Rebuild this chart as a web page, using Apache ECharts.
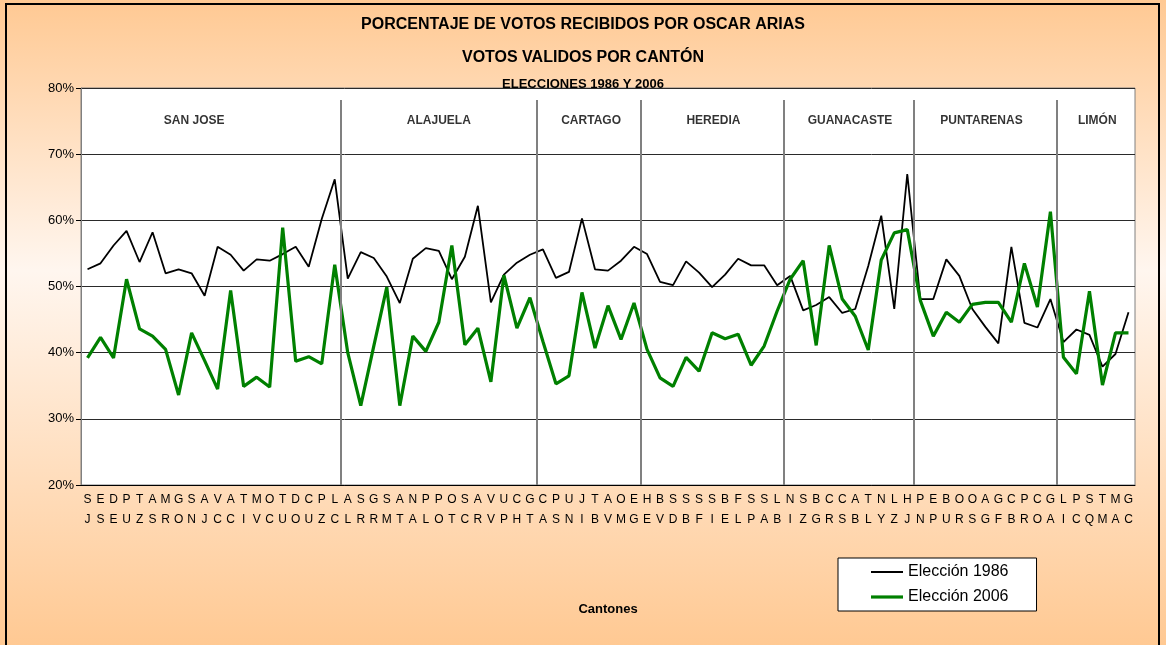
<!DOCTYPE html>
<html>
<head>
<meta charset="utf-8">
<script src="https://cdn.jsdelivr.net/npm/echarts@6/dist/echarts.min.js"></script>
<style>
  html, body { margin: 0; padding: 0; }
  #chart { width: 1166px; height: 645px; }
</style>
</head>
<body>
<div id="chart"></div>
<script>
// cantones (dos letras, una arriba y otra abajo)
const cantones = [
  'SJ','ES','DE','PU','TZ','AS','MR','GO','SN','AJ','VC','AC','TI','MV','OC','TU','DO','CU','PZ','LC',
  'AL','SR','GR','SM','AT','NA','PL','PO','OT','SC','AR','VV','UP','CH','GT',
  'CA','PS','UN','JI','TB','AV','OM','EG',
  'HE','BV','SD','SB','SF','SI','BE','FL','SP','SA',
  'LB','NI','SZ','BG','CR','CS','AB','TL','NY','LZ','HJ',
  'PN','EP','BU','OR','OS','AG','GF','CB','PR','CO','GA',
  'LI','PC','SQ','TM','MA','GC'
]

const votos1986 = [
  52.6, 53.5, 56.2, 58.4, 53.7, 58.2, 52.0, 52.6, 52.0, 48.6, 56.0, 54.8, 52.4, 54.1, 53.9, 54.9, 56.0, 53.0, 60.2, 66.2,
  51.2, 55.2, 54.3, 51.5, 47.5, 54.2, 55.8, 55.4, 51.1, 54.5, 62.2, 47.6, 51.8, 53.6, 54.8,
  55.6, 51.3, 52.2, 60.3, 52.6, 52.4, 53.9, 56.0,
  54.9, 50.7, 50.2, 53.8, 52.1, 49.9, 51.8, 54.2, 53.2, 53.2,
  50.2, 51.6, 46.4, 47.2, 48.4, 46.0, 46.6, 53.1, 60.7, 46.6, 67.0,
  48.1, 48.1, 54.1, 51.6, 46.6, 43.9, 41.4, 56.0, 44.5, 43.8, 48.1,
  41.6, 43.5, 42.7, 37.9, 39.8, 46.1
]

const votos2006 = [
  39.2, 42.3, 39.2, 51.1, 43.6, 42.5, 40.5, 33.6, 43.0, 38.8, 34.5, 49.4, 34.9, 36.3, 34.8, 58.9, 38.7, 39.4, 38.3, 53.3,
  40.0, 32.0, 41.0, 49.9, 32.0, 42.5, 40.2, 44.6, 56.2, 41.2, 43.7, 35.6, 51.7, 43.7, 48.3,
  41.7, 35.3, 36.5, 49.1, 40.7, 47.1, 42.0, 47.5,
  40.5, 36.2, 34.9, 39.3, 37.2, 43.0, 42.1, 42.8, 38.1, 41.0,
  46.3, 51.1, 53.9, 41.1, 56.2, 48.1, 45.5, 40.4, 54.0, 58.1, 58.6,
  47.9, 42.5, 46.1, 44.6, 47.3, 47.6, 47.6, 44.6, 53.5, 46.9, 61.3,
  39.3, 36.8, 49.3, 35.1, 43.0, 43.0
]

const provincias = ['SAN JOSE', 'ALAJUELA', 'CARTAGO', 'HEREDIA', 'GUANACASTE', 'PUNTARENAS', 'LIMÓN']
// separadores entre provincias (indice de canton)
const divisiones = [20, 35, 43, 54, 64, 75]
const yTicks = [20, 30, 40, 50, 60, 70, 80]

// donde va el nombre de cada provincia (en unidades de canton)
const posNombre = [8.7, 27.5, 39.2, 48.6, 59.1, 69.2, 78.1]

const chart = echarts.init(document.getElementById('chart'))
const fuente = "'Liberation Sans', Arial, sans-serif"

const option = {
  animation: false,
  backgroundColor: {
    type: 'linear', x: 0, y: 0, x2: 0, y2: 1,
    colorStops: [
      { offset: 0, color: '#ffc993' },
      { offset: 0.42, color: '#fff6ef' },
      { offset: 1, color: '#ffc993' }
    ]
  },
  textStyle: { fontFamily: fuente },
  title: [
    { text: 'PORCENTAJE DE VOTOS RECIBIDOS POR OSCAR ARIAS', left: 'center', top: 12,
      textStyle: { fontSize: 16, fontWeight: 'bold', color: '#000' } },
    { text: 'VOTOS VALIDOS POR CANTÓN', left: 'center', top: 45,
      textStyle: { fontSize: 16, fontWeight: 'bold', color: '#000' } },
    { text: 'ELECCIONES 1986 Y 2006', left: 'center', top: 73,
      textStyle: { fontSize: 13, fontWeight: 'bold', color: '#000' } }
  ],
  graphic: [
    { type: 'rect', shape: { x: 6, y: 4, width: 1153, height: 700 },
      style: { fill: 'none', stroke: '#000', lineWidth: 2 }, silent: true }
  ],
  legend: {
    data: [
      { name: 'Elección 1986', icon: 'path://M0,0 H32 V2 H0 Z' },
      { name: 'Elección 2006', icon: 'path://M0,0 H32 V3.2 H0 Z' }
    ],
    orient: 'vertical',
    left: 838,
    top: 558,
    backgroundColor: '#fff',
    borderColor: '#000',
    borderWidth: 1,
    padding: [6, 28, 6, 33],
    itemWidth: 32,
    itemHeight: 16,
    itemGap: 9,
    selectedMode: false,
    textStyle: { fontSize: 16, color: '#000', fontFamily: fuente }
  },
  grid: {
    left: 81, right: 31, top: 88, bottom: 160,
    show: true,
    backgroundColor: '#fff',
    borderColor: '#808080',
    borderWidth: 1
  },
  xAxis: [
    {
      type: 'category',
      data: cantones,
      boundaryGap: true,
      name: 'Cantones',
      nameLocation: 'middle',
      nameGap: 118,
      nameTextStyle: { fontSize: 13, fontWeight: 'bold', color: '#000' },
      axisLine: { lineStyle: { color: '#000', width: 1 } },
      axisTick: { length: 4, lineStyle: { color: '#000' } },
      axisLabel: {
        interval: 0,
        hideOverlap: false,
        margin: 5,
        fontSize: 12,
        lineHeight: 20,
        color: '#000',
        formatter: v => v[0] + '\n' + v[1]
      },
      splitLine: { show: false }
    },
    {
      type: 'value',
      min: 0,
      max: cantones.length,
      show: false
    },
    {
      type: 'category',
      data: cantones,
      position: 'bottom',
      axisLine: { show: false },
      axisLabel: { show: false },
      axisTick: {
        length: 8,
        interval: i => divisiones.includes(i),
        lineStyle: { color: '#808080', width: 2 }
      },
      splitLine: { show: false }
    }
  ],
  yAxis: {
    type: 'value',
    min: yTicks[0],
    max: yTicks[yTicks.length - 1],
    interval: 10,
    axisLine: { show: true, lineStyle: { color: '#808080' } },
    axisTick: { show: true, length: 5, lineStyle: { color: '#000' } },
    axisLabel: { formatter: '{value}%', fontSize: 13, color: '#000', margin: 7 },
    splitLine: { lineStyle: { color: '#2a2a2a', width: 1 } }
  },
  series: [
    {
      name: 'Elección 1986',
      type: 'line',
      data: votos1986,
      symbol: 'none',
      color: '#000',
      lineStyle: { color: '#000', width: 1.8 }
    },
    {
      name: 'Elección 2006',
      type: 'line',
      data: votos2006,
      symbol: 'none',
      color: '#008000',
      lineStyle: { color: '#008000', width: 3.2 }
    },
    {
      // nombres de provincias y separadores
      type: 'scatter',
      xAxisIndex: 1,
      symbolSize: 0,
      silent: true,
      data: posNombre.map((x, i) => ({ value: [x, 75], name: provincias[i] })),
      label: {
        show: true,
        position: 'inside',
        formatter: p => p.name,
        fontSize: 12,
        fontWeight: 'bold',
        color: '#000'
      },
      markLine: {
        silent: true,
        symbol: 'none',
        label: { show: false },
        lineStyle: { color: '#808080', width: 2, type: 'solid' },
        data: divisiones.map(d => [{ coord: [d, 78.2] }, { coord: [d, yTicks[0]] }])
      }
    }
  ]
}

chart.setOption(option)
</script>
</body>
</html>
